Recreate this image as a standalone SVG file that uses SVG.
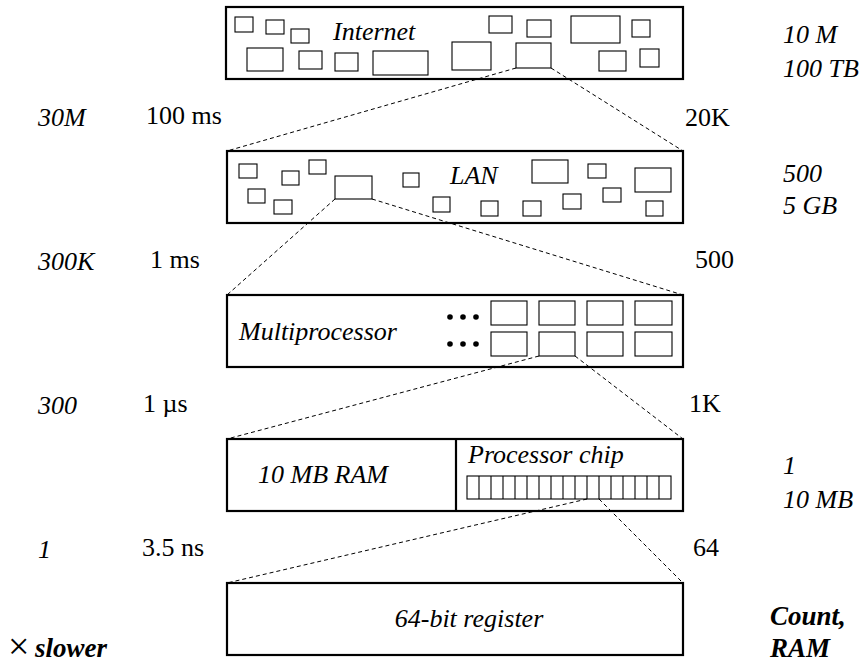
<svg xmlns="http://www.w3.org/2000/svg" width="865" height="666" viewBox="0 0 865 666" font-family="'Liberation Serif', 'DejaVu Serif', serif">
<style>
.outer{fill:#fff;stroke:#000;stroke-width:2.2}
.inner{fill:none;stroke:#000;stroke-width:1.1}
.dash{fill:none;stroke:#000;stroke-width:1;stroke-dasharray:4 3}
text{font-family:'Liberation Serif', 'DejaVu Serif', serif;font-size:26px;fill:#000}
.it{font-style:italic}
.bi{font-style:italic;font-weight:bold;font-size:27px}
.times{font-size:38px}
</style>
<rect width="865" height="666" fill="#fff"/>
<g id="internet">
<rect class="outer" x="226" y="7" width="457" height="72"/>
<rect class="inner" x="235" y="17" width="18" height="15"/>
<rect class="inner" x="266" y="20" width="18" height="14"/>
<rect class="inner" x="291" y="29" width="18" height="14"/>
<rect class="inner" x="247" y="48" width="36" height="23"/>
<rect class="inner" x="299" y="51" width="23" height="18"/>
<rect class="inner" x="335" y="53" width="23" height="18"/>
<rect class="inner" x="373" y="51" width="55" height="24"/>
<rect class="inner" x="452" y="42" width="39" height="28"/>
<rect class="inner" x="516" y="43" width="35" height="25"/>
<rect class="inner" x="489" y="16" width="23" height="17"/>
<rect class="inner" x="527" y="20" width="24" height="17"/>
<rect class="inner" x="571" y="16" width="49" height="27"/>
<rect class="inner" x="632" y="20" width="18" height="17"/>
<rect class="inner" x="599" y="51" width="27" height="20"/>
<rect class="inner" x="640" y="49" width="19" height="18"/>
<text class="it" x="333" y="40">Internet</text>
</g>
<g id="lan">
<rect class="outer" x="227" y="151" width="456" height="72"/>
<rect class="inner" x="239" y="164" width="18" height="14"/>
<rect class="inner" x="282" y="171" width="17" height="14"/>
<rect class="inner" x="309" y="160" width="17" height="14"/>
<rect class="inner" x="248" y="189" width="17" height="14"/>
<rect class="inner" x="274" y="200" width="18" height="14"/>
<rect class="inner" x="335" y="176" width="37" height="23"/>
<rect class="inner" x="403" y="173" width="16" height="14"/>
<rect class="inner" x="433" y="197" width="17" height="15"/>
<rect class="inner" x="481" y="201" width="17" height="15"/>
<rect class="inner" x="523" y="201" width="18" height="15"/>
<rect class="inner" x="563" y="194" width="18" height="15"/>
<rect class="inner" x="532" y="160" width="36" height="23"/>
<rect class="inner" x="588" y="164" width="18" height="14"/>
<rect class="inner" x="603" y="188" width="18" height="14"/>
<rect class="inner" x="635" y="168" width="36" height="24"/>
<rect class="inner" x="646" y="201" width="17" height="15"/>
<text class="it" x="450" y="184">LAN</text>
</g>
<g id="multiprocessor">
<rect class="outer" x="227" y="295" width="456" height="72"/>
<rect class="inner" x="491" y="301" width="36" height="24"/>
<rect class="inner" x="539" y="301" width="36" height="24"/>
<rect class="inner" x="587" y="301" width="36" height="24"/>
<rect class="inner" x="635" y="301" width="37" height="24"/>
<rect class="inner" x="491" y="332" width="36" height="24"/>
<rect class="inner" x="539" y="332" width="36" height="24"/>
<rect class="inner" x="587" y="332" width="36" height="24"/>
<rect class="inner" x="635" y="332" width="37" height="24"/>
<circle cx="450" cy="317" r="2.8"/>
<circle cx="463" cy="317" r="2.8"/>
<circle cx="476" cy="317" r="2.8"/>
<circle cx="450" cy="344" r="2.8"/>
<circle cx="463" cy="344" r="2.8"/>
<circle cx="476" cy="344" r="2.8"/>
<text class="it" x="239" y="340">Multiprocessor</text>
</g>
<g id="node-chip">
<rect class="outer" x="227" y="439" width="456" height="72"/>
<line x1="456" y1="439" x2="456" y2="511" stroke="#000" stroke-width="2.2"/>
<text class="it" x="258" y="483">10 MB RAM</text>
<text class="it" x="468" y="463">Processor chip</text>
<rect class="inner" x="467" y="476" width="204" height="23"/>
<path class="inner" d="M479 476V499M491 476V499M503 476V499M515 476V499M527 476V499M539 476V499M551 476V499M563 476V499M575 476V499M587 476V499M599 476V499M611 476V499M623 476V499M635 476V499M647 476V499M659 476V499"/>
</g>
<g id="register">
<rect class="outer" x="227" y="583" width="456" height="72"/>
<text class="it" x="469" y="627" text-anchor="middle">64-bit register</text>
</g>
<g id="connectors">
<line class="dash" x1="516" y1="68" x2="227" y2="151"/>
<line class="dash" x1="551" y1="68" x2="683" y2="151"/>
<line class="dash" x1="335" y1="199" x2="227" y2="295"/>
<line class="dash" x1="372" y1="199" x2="683" y2="295"/>
<line class="dash" x1="539" y1="356" x2="227" y2="439"/>
<line class="dash" x1="575" y1="356" x2="683" y2="439"/>
<line class="dash" x1="587" y1="499" x2="227" y2="583"/>
<line class="dash" x1="599" y1="499" x2="683" y2="583"/>
</g>
<g id="labels">
<text class="it" x="38" y="126">30M</text>
<text x="146" y="124">100 ms</text>
<text x="685" y="126">20K</text>
<text class="it" x="38" y="270">300K</text>
<text x="150" y="268">1 ms</text>
<text x="695" y="268">500</text>
<text class="it" x="38" y="414">300</text>
<text x="143" y="412">1 µs</text>
<text x="689" y="412">1K</text>
<text class="it" x="38" y="558">1</text>
<text x="142" y="556">3.5 ns</text>
<text x="693" y="556">64</text>
<text class="it" x="783" y="43">10 M</text>
<text class="it" x="783" y="77">100 TB</text>
<text class="it" x="783" y="182">500</text>
<text class="it" x="783" y="214">5 GB</text>
<text class="it" x="783" y="474">1</text>
<text class="it" x="783" y="508">10 MB</text>
<text class="bi" x="770" y="625">Count,</text>
<text class="bi" x="770" y="657">RAM</text>
<text class="times" x="8" y="659">×</text>
<text class="bi" x="35" y="657">slower</text>
</g>
</svg>
